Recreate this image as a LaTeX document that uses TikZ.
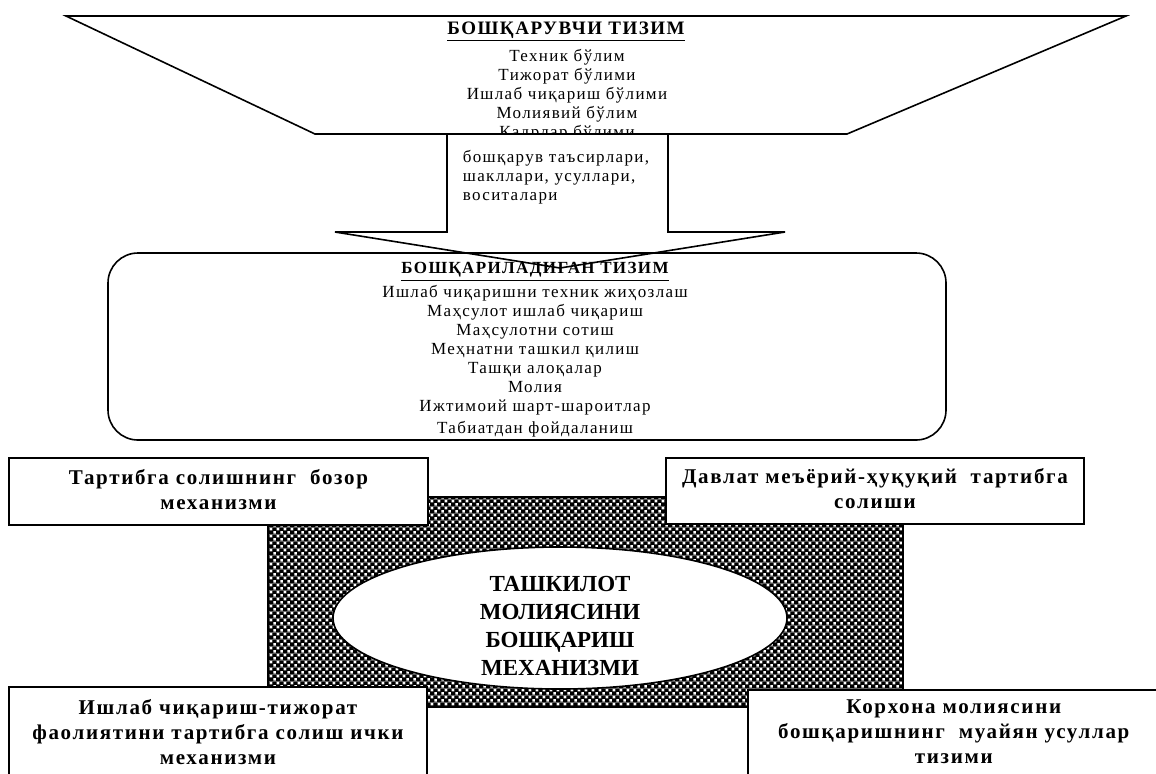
\documentclass[tikz,border=0pt]{standalone}
\usepackage{fontspec}
\setmainfont{Liberation Serif}
\newfontfamily\spacedfont[LetterSpace=8]{Liberation Serif}
\usetikzlibrary{positioning,shapes.geometric,patterns.meta}

\tikzdeclarepattern{
  name=dotfill,
  type=colored,
  bottom left={(0pt,0pt)},
  top right={(3.6pt,3.6pt)},
  tile size={(3.6pt,3.6pt)},
  code={
    \fill[black] (0pt,0pt) rectangle (3.6pt,3.6pt);
    \fill[white] (0.2pt,0.2pt) rectangle (1.6pt,1.6pt);
    \fill[white] (2pt,2pt) rectangle (3.4pt,3.4pt);
  }
}

\tikzset{
  outline/.style={draw=black, line width=0.8pt},
  smalltext/.style={font=\spacedfont\fontsize{8.5}{9.5}\selectfont, align=center, inner sep=0pt},
  titletext/.style={font=\spacedfont\bfseries\fontsize{9.5}{12}\selectfont, inner sep=0pt},
  boxtext/.style={font=\spacedfont\bfseries\fontsize{10.5}{12.5}\selectfont, align=center, inner sep=0pt},
  infobox/.style={outline, fill=white, inner sep=0pt},
}

\begin{document}
\begin{tikzpicture}[x=0.5pt, y=-0.5pt]
    \useasboundingbox (0,0) rectangle (1156,773);
    % Controlling system (top funnel)
    \fill[white] (66,16) -- (1126,16) -- (847,134) -- (315,134) -- cycle;
    \node[titletext, anchor=base] (ctrltitle) at (566,34) {\underline{БОШҚАРУВЧИ ТИЗИМ}};
    \node[smalltext, anchor=north] (ctrllist) at (567,49)
         {Техник бўлим\\Тижорат бўлими\\Ишлаб чиқариш бўлими\\Молиявий бўлим\\Кадрлар бўлими};
    % Block arrow down
    \path[outline, fill=white]
         (447,134) -- (447,232) -- (335,232) -- (560,268) -- (785,232) -- (668,232) -- (668,134);
    \draw[outline] (66,16) -- (1126,16) -- (847,134) -- (315,134) -- cycle;
    \node[smalltext, align=left] (means) at (556,177)
         {бошқарув таъсирлари,\\шакллари, усуллари,\\воситалари};
    % Controlled system
    \draw[outline, rounded corners=15pt] (108,253) rectangle (946,440);
    \node[titletext, font=\spacedfont\bfseries\fontsize{8.5}{11}\selectfont] (subjtitle) at (535,272)
         {\underline{БОШҚАРИЛАДИГАН ТИЗИМ}};
    \node[smalltext, anchor=north] (subjlist) at (535,285)
         {Ишлаб чиқаришни техник жиҳозлаш\\Маҳсулот ишлаб чиқариш\\Маҳсулотни сотиш\\Меҳнатни ташкил қилиш\\Ташқи алоқалар\\Молия\\Ижтимоий шарт-шароитлар\\[1.5pt]Табиатдан фойдаланиш};
    % Mechanism core
    \draw[outline, pattern=dotfill] (268,497) rectangle (903,707);
    \node[outline, fill=white, ellipse, minimum width=227pt, minimum height=71pt] (core) at (560,618) {};
    \node[boxtext, font=\bfseries\fontsize{11.5}{14}\selectfont] (coretext) at (560,626)
         {ТАШКИЛОТ\\МОЛИЯСИНИ\\БОШҚАРИШ\\МЕХАНИЗМИ};
    % Four regulating boxes
    \node[infobox, minimum width=209.5pt, minimum height=33.5pt] (market) at (218.5,491.5) {};
    \node[boxtext] at ([yshift=1pt]market) {Тартибга солишнинг\ \ бозор\\механизми};
    \node[infobox, minimum width=209pt, minimum height=33pt] (state) at (875,491) {};
    \node[boxtext] at ([yshift=1pt]state) {Давлат меъёрий-ҳуқуқий\ \ тартибга\\солиши};
    \node[infobox, minimum width=209pt, minimum height=60pt, anchor=north] (inner) at (218,686) {};
    \node[boxtext, anchor=north] at ([yshift=-6.5pt]inner.north)
         {Ишлаб чиқариш-тижорат\\фаолиятини тартибга солиш ички\\механизми};
    \node[infobox, minimum width=206pt, minimum height=60pt, anchor=north west] (methods) at (747,689) {};
    \node[boxtext, anchor=north] at ([yshift=-5pt]methods.north)
         {Корхона молиясини\\бошқаришнинг\ \ муайян усуллар\\тизими};
\end{tikzpicture}
\end{document}
